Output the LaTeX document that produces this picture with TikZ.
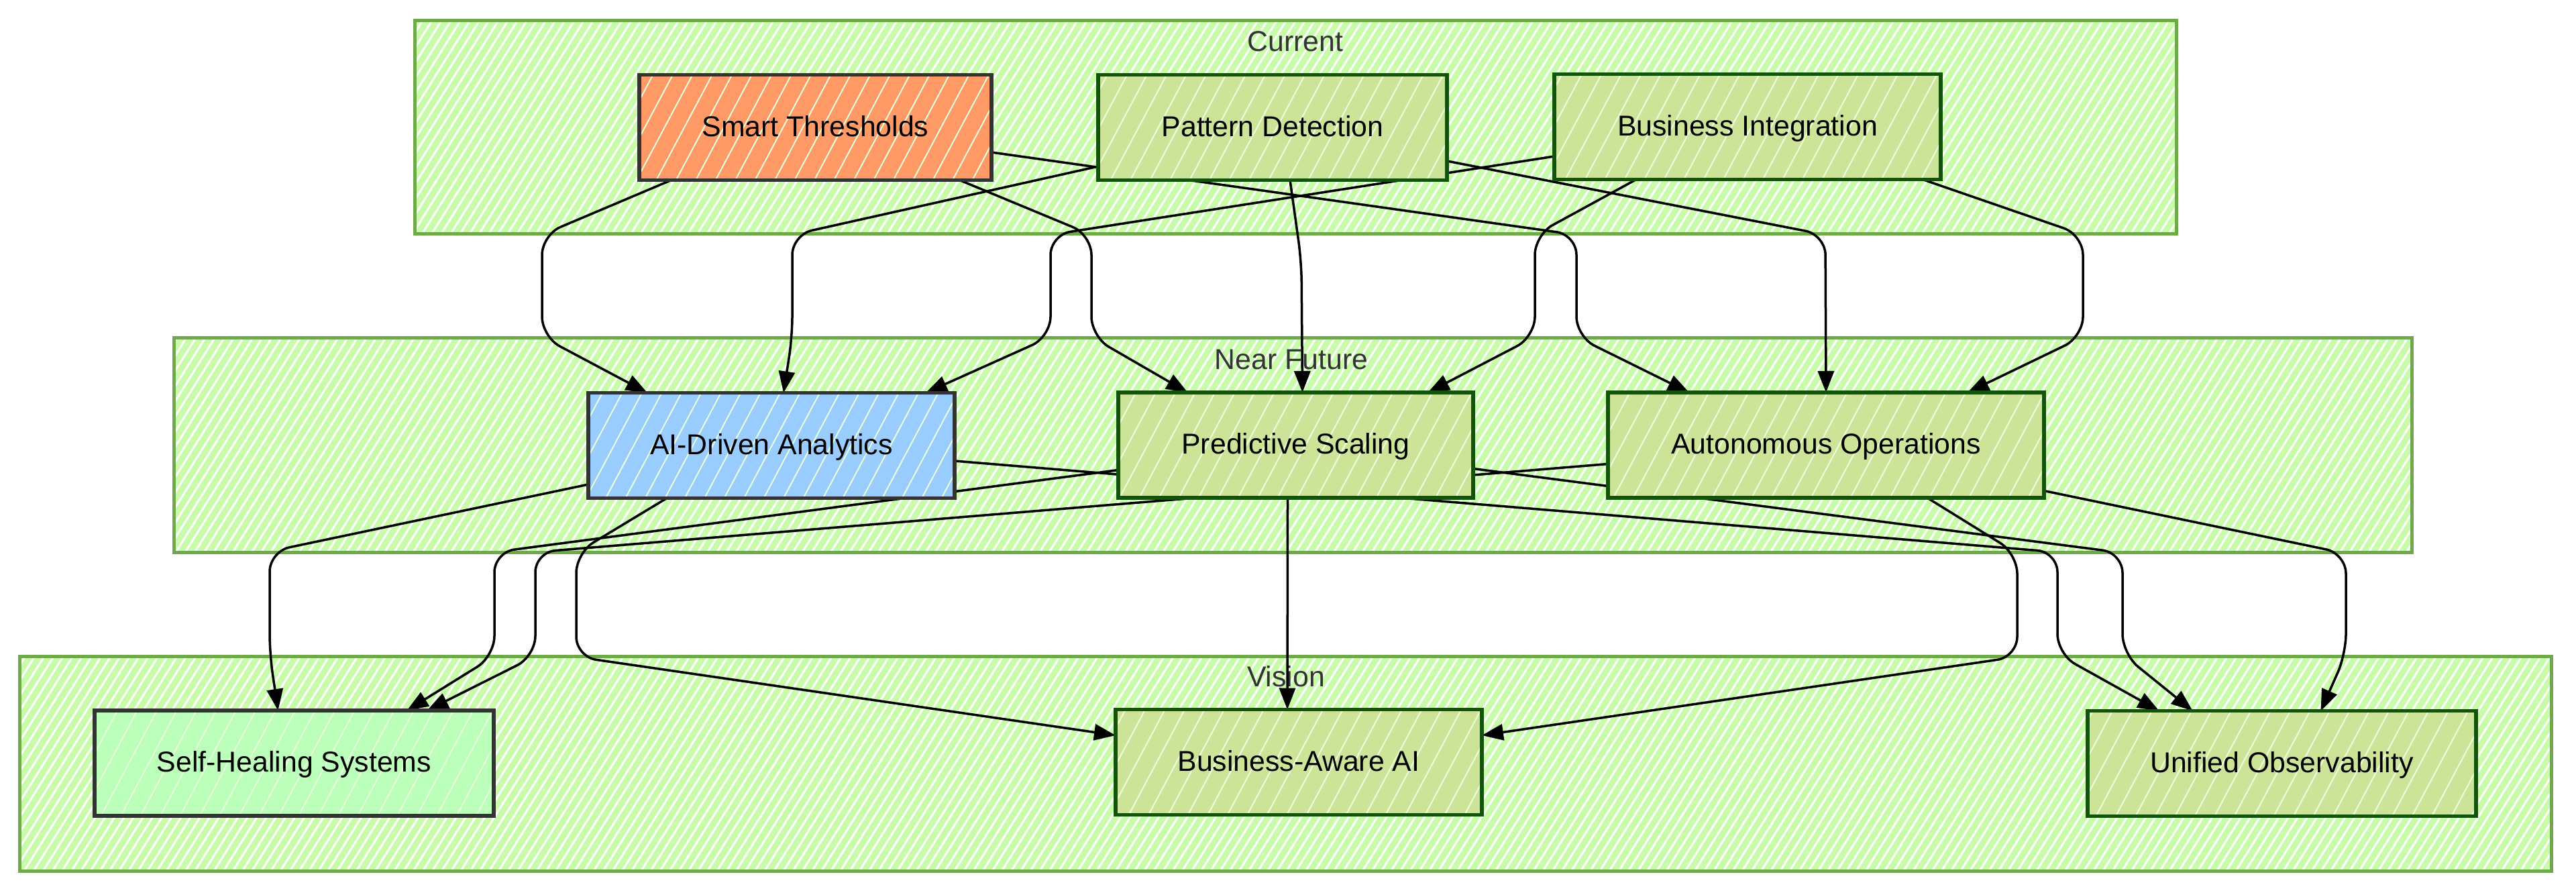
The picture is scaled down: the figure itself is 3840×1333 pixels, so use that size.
\documentclass[tikz,border=0pt]{standalone}
\usepackage{fontspec}
\setmainfont{Liberation Sans}
\usetikzlibrary{arrows.meta,patterns.meta}
\definecolor{clfill}{HTML}{C8FCAA}
\definecolor{clborder}{HTML}{6EAA49}
\definecolor{nfill}{HTML}{CDE498}
\definecolor{nborder}{HTML}{13540C}
\definecolor{orangefill}{HTML}{FF9966}
\definecolor{bluefill}{HTML}{99CCFF}
\definecolor{mintfill}{HTML}{BBFFBB}
\definecolor{graystroke}{HTML}{333333}
\definecolor{labelgray}{HTML}{333333}
\newcommand{\mynodefont}{\fontsize{42.8}{50}\selectfont}
\pgfdeclarelayer{clusterlayer}
\pgfdeclarelayer{edgelayer}
\pgfsetlayers{clusterlayer,edgelayer,main}
\tikzset{
  clhatch/.style={pattern={Lines[angle=58,distance=12pt,line width=3pt]}, pattern color=white},
  nhatch/.style={pattern={Lines[angle=62,distance=26pt,line width=2pt]}, pattern color=white!60!clfill},
  cluster/.style={draw=clborder, line width=5pt, preaction={fill=clfill}, preaction={clhatch}, inner sep=0pt, outer sep=0pt},
  cllabel/.style={font=\mynodefont, text=labelgray, anchor=base, inner sep=0pt},
  nodebox/.style={line width=5.5pt, minimum height=157pt, inner sep=0pt, outer sep=0pt, font=\mynodefont, text=black, text height=32pt, text depth=6pt},
  forestnode/.style={nodebox, draw=nborder, preaction={fill=nfill}, preaction={nhatch}},
  orangenode/.style={nodebox, draw=graystroke, preaction={fill=orangefill}, preaction={nhatch}},
  bluenode/.style={nodebox, draw=graystroke, preaction={fill=bluefill}, preaction={nhatch}},
  mintnode/.style={nodebox, draw=graystroke, preaction={fill=mintfill}, preaction={nhatch}},
  edge/.style={draw=black, line width=3.5pt, rounded corners=30pt, -{Triangle[length=32pt,width=24pt]}}
}
\begin{document}
\begin{tikzpicture}[x=1pt,y=-1pt]
\useasboundingbox (0,0) rectangle (3840,1333);

\begin{pgfonlayer}{clusterlayer}
\fill[white] (0,0) rectangle (3840,1333);
\node[cluster, minimum width=2626pt, minimum height=318pt] (current) at (1931,189) {};
\node[cluster, minimum width=3336pt, minimum height=320pt] (near) at (1927,663) {};
\node[cluster, minimum width=3774pt, minimum height=320pt] (vision) at (1916,1138) {};
\node[cllabel] (currentlbl) at (1931,76) {Current};
\node[cllabel] (nearlbl) at (1925,550) {Near Future};
\node[cllabel] (visionlbl) at (1917,1023) {Vision};
\end{pgfonlayer}

\node[orangenode, minimum width=525pt] (smart) at (1215.5,190) {Smart Thresholds};
\node[forestnode, minimum width=520pt] (pattern) at (1897,190) {Pattern Detection};
\node[forestnode, minimum width=576pt] (business) at (2605,189) {Business Integration};
\node[bluenode, minimum width=546pt] (ai) at (1150,664) {AI-Driven Analytics};
\node[forestnode, minimum width=529pt] (pred) at (1931.5,663.5) {Predictive Scaling};
\node[forestnode, minimum width=650pt] (auto) at (2722,663.5) {Autonomous Operations};
\node[mintnode, minimum width=595pt] (sh) at (438.5,1137.5) {Self-Healing Systems};
\node[forestnode, minimum width=546pt] (ba) at (1936,1136) {Business-Aware AI};
\node[forestnode, minimum width=579pt] (uo) at (3401.5,1138) {Unified Observability};

\begin{pgfonlayer}{edgelayer}
% Current -> Near Future
\draw[edge] ([xshift=-215pt]smart.south) -- (808,350) -- (808,502) -- ([xshift=-185pt]ai.north);
\draw[edge] ([yshift=-58pt]pattern.west) -- (1181,350) -- (1181,502) -- ([xshift=18pt]ai.north);
\draw[edge] ([yshift=-44pt]business.west) -- (1566,350) -- (1566,502) -- ([xshift=230pt]ai.north);
\draw[edge] ([xshift=215pt]smart.south) -- (1627,350) -- (1627,502) -- ([xshift=-161pt]pred.north);
\draw[edge] ([xshift=26pt]pattern.south) -- (1940,390) -- ([xshift=10pt]pred.north);
\draw[edge] ([xshift=-166pt]business.south) -- (2288,350) -- (2288,502) -- ([xshift=197pt]pred.north);
\draw[edge] ([yshift=-37pt]smart.east) -- (2350,350) -- (2350,502) -- ([xshift=-204pt]auto.north);
\draw[edge] ([yshift=-50pt]pattern.east) -- (2721,350) -- (auto.north);
\draw[edge] ([xshift=261pt]business.south) -- (3105,350) -- (3105,502) -- ([xshift=211pt]auto.north);
% Near Future -> Vision
\draw[edge] ([yshift=-58pt]ai.west) -- (402,822) -- (402,975) -- ([xshift=-24pt]sh.north);
\draw[edge] ([xshift=-156pt]ai.south) -- (859,824) -- (859,979) -- ([yshift=40pt]ba.west);
\draw[edge] ([yshift=-23pt]ai.east) -- (3067,823) -- (3067,975) -- ([xshift=-183pt]uo.north);
\draw[edge] ([yshift=-37pt]pred.west) -- (737,823) -- (737,978) -- ([xshift=168pt]sh.north);
\draw[edge] ([xshift=-12pt]pred.south) -- ([xshift=-17pt]ba.north);
\draw[edge] ([yshift=-35pt]pred.east) -- (3164,824) -- (3164,975) -- ([xshift=-133pt]uo.north);
\draw[edge] ([yshift=-28pt]auto.west) -- (798,823) -- (798,978) -- ([xshift=198pt]sh.north);
\draw[edge] ([xshift=151pt]auto.south) -- (3007,825) -- (3007,979) -- ([yshift=40pt]ba.east);
\draw[edge] ([yshift=-68pt]auto.east) -- (3497,825) -- (3497,975) -- ([xshift=58pt]uo.north);
\end{pgfonlayer}
\end{tikzpicture}
\end{document}
